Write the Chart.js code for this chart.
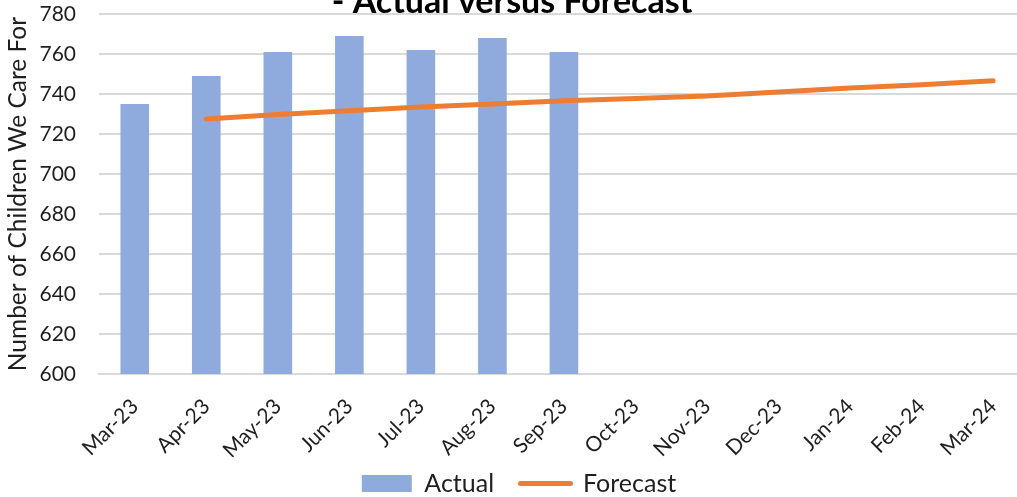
<!DOCTYPE html>
<html>
<head>
<meta charset="utf-8">
<script src="https://cdn.jsdelivr.net/npm/chart.js@4.4.1/dist/chart.umd.min.js"></script>
<style>
  html, body { margin: 0; padding: 0; background: #fff; overflow: hidden; width: 1017px; height: 497px; }
  #wrap { position: absolute; left: 0; top: 0; width: 1031px; height: 506px; }
</style>
</head>
<body>
<div id="wrap"><canvas id="c" width="1031" height="506"></canvas></div>
<script>
// Months shown on the category axis
const months = ['Mar-23', 'Apr-23', 'May-23', 'Jun-23', 'Jul-23', 'Aug-23', 'Sep-23',
                'Oct-23', 'Nov-23', 'Dec-23', 'Jan-24', 'Feb-24', 'Mar-24'];

// Actual number of children cared for (recorded months only)
const actual = [735, 749, 761, 769, 762, 768, 761, null, null, null, null, null, null];

// Forecast trajectory from April 2023 to March 2024
const forecast = [null, 727.5, 729.8, 731.6, 733.5, 735, 736.6, 737.8, 739, 741, 743, 744.6, 746.6];

// Value axis range
const yMin = 600;
const yMax = 780;
const yStep = 20;

const chartTitle = '- Actual versus Forecast';
const yAxisTitle = 'Number of Children We Care For';
const seriesNames = ['Actual', 'Forecast'];

const BLUE = '#8FAADC';
const ORANGE = '#ED7D31';
const GRID = '#D9D9D9';
const TEXT = '#1f1f1f';
const FONT = 'Lato';

// Chart heading, drawn over the top edge of the plot
const headingPlugin = {
  id: 'heading',
  afterDraw(chart) {
    const ctx = chart.ctx;
    ctx.save();
    ctx.font = 'bold 34px ' + FONT;
    ctx.fillStyle = '#000';
    ctx.textAlign = 'center';
    ctx.textBaseline = 'alphabetic';
    ctx.fillText(chartTitle, 512, 13);
    ctx.restore();
  }
};

new Chart(document.getElementById('c'), {
  type: 'bar',
  data: {
    labels: months,
    datasets: [
      {
        type: 'bar',
        label: seriesNames[0],
        data: actual,
        backgroundColor: BLUE,
        borderWidth: 0,
        barPercentage: 0.4,
        categoryPercentage: 1.0,
        order: 2
      },
      {
        type: 'line',
        label: seriesNames[1],
        data: forecast,
        borderColor: ORANGE,
        backgroundColor: ORANGE,
        borderWidth: 5,
        borderCapStyle: 'round',
        borderJoinStyle: 'round',
        pointRadius: 0,
        pointHoverRadius: 0,
        tension: 0,
        spanGaps: false,
        order: 1
      }
    ]
  },
  options: {
    responsive: false,
    devicePixelRatio: 1,
    animation: false,
    layout: { padding: { top: 14, right: 2, left: 9, bottom: 0 } },
    plugins: {
      title: { display: false },
      tooltip: { enabled: false },
      legend: {
        position: 'bottom',
        labels: {
          font: { family: FONT, size: 25 },
          color: TEXT,
          usePointStyle: true,
          pointStyleWidth: 50,
          boxHeight: 17,
          padding: 14,
          sort: (a, b) => a.datasetIndex - b.datasetIndex,
          generateLabels(chart) {
            const items = Chart.defaults.plugins.legend.labels.generateLabels(chart);
            items.forEach(it => {
              const ds = chart.data.datasets[it.datasetIndex];
              if (ds.type === 'line') {
                it.pointStyle = 'line';
                it.strokeStyle = ORANGE;
                it.lineWidth = 5;
                it.lineCap = 'round';
              } else {
                // a little extra room before the next entry
                it.text = it.text + '\u2002';
                it.pointStyle = 'rect';
                it.fillStyle = BLUE;
                it.strokeStyle = BLUE;
                it.lineWidth = 0;
              }
            });
            return items;
          }
        }
      }
    },
    scales: {
      x: {
        offset: true,
        grid: { display: false, drawTicks: false },
        border: { display: true, color: GRID, width: 2 },
        ticks: {
          font: { family: FONT, size: 21 },
          color: TEXT,
          minRotation: 45,
          maxRotation: 45,
          autoSkip: false,
          padding: 20
        },
        afterFit(scale) { scale.height = 83; }
      },
      y: {
        min: yMin,
        max: yMax,
        grid: { color: GRID, lineWidth: 2, drawTicks: true, tickLength: 23, tickColor: 'rgba(0,0,0,0)' },
        border: { display: false },
        ticks: {
          stepSize: yStep,
          font: { family: FONT, size: 21 },
          color: TEXT,
          padding: 0
        },
        title: {
          display: true,
          text: yAxisTitle,
          font: { family: FONT, size: 24.5 },
          color: TEXT,
          padding: { top: -6, bottom: 0 }
        },
        afterFit(scale) { scale.width = 90; }
      }
    }
  },
  plugins: [headingPlugin]
});
</script>
</body>
</html>
